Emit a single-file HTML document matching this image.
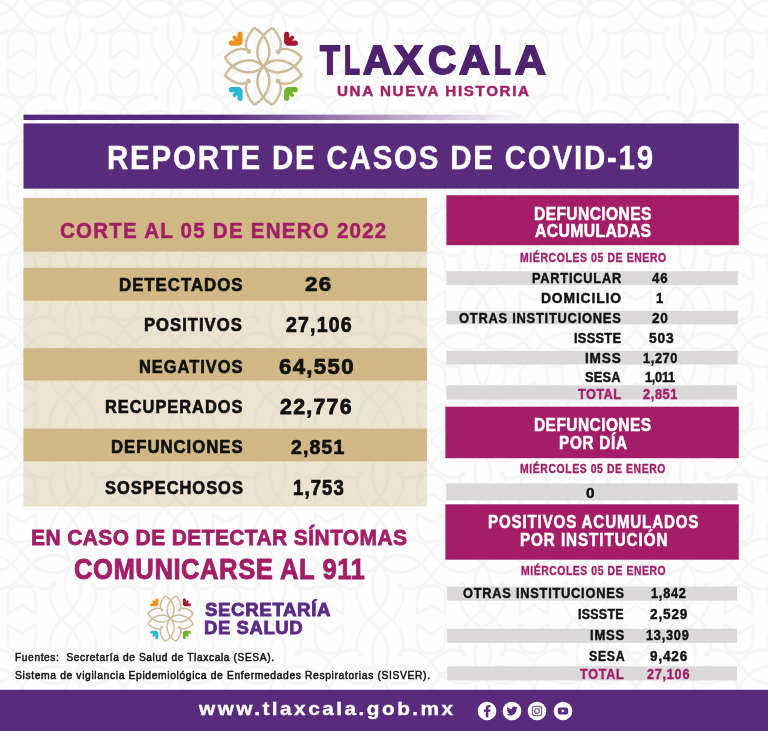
<!DOCTYPE html>
<html lang="es">
<head>
<meta charset="utf-8">
<title>Reporte de casos de COVID-19 - Tlaxcala</title>
<style>
html,body{margin:0;padding:0;}
body{width:768px;height:731px;position:relative;overflow:hidden;background:#fdfdfd;font-family:"Liberation Sans",sans-serif;font-weight:700;}
.b{position:absolute;}
.t{position:absolute;white-space:nowrap;line-height:1;transform-origin:0 50%;}
</style>
</head>
<body>
<svg class="b" style="left:0;top:0" width="768" height="731" viewBox="0 0 768 731">
<defs>
<linearGradient id="fade" x1="0" y1="0" x2="1" y2="0">
<stop offset="0" stop-color="#582b7c"/><stop offset="0.38" stop-color="#582b7c"/><stop offset="0.96" stop-color="#582b7c" stop-opacity="0"/>
</linearGradient>
<g id="bgf" transform="scale(0.18)" stroke-width="15">
<use href="#lg-q"/><use href="#lg-q" transform="rotate(90)"/><use href="#lg-q" transform="rotate(180)"/><use href="#lg-q" transform="rotate(270)"/>
</g>
<g id="bgt" stroke-width="2.6">
<path d="M-14,-5 L-14,-19 Q-14,-31 0,-31 Q14,-31 14,-19 L14,-5 L0,-13 Z"/>
<path d="M-14,5 L-14,19 Q-14,31 0,31 Q14,31 14,19 L14,5 L0,13 Z"/>
</g>
</defs>
<g fill="none" stroke="#f6f6f6" stroke-linejoin="round">
<use href="#bgf" transform="translate(-29.4,-102.7) scale(1,1.085)"/>
<use href="#bgf" transform="translate(73.0,-102.7) scale(1,1.085)"/>
<use href="#bgf" transform="translate(175.4,-102.7) scale(1,1.085)"/>
<use href="#bgf" transform="translate(277.8,-102.7) scale(1,1.085)"/>
<use href="#bgf" transform="translate(380.2,-102.7) scale(1,1.085)"/>
<use href="#bgf" transform="translate(482.6,-102.7) scale(1,1.085)"/>
<use href="#bgf" transform="translate(585.0,-102.7) scale(1,1.085)"/>
<use href="#bgf" transform="translate(687.4,-102.7) scale(1,1.085)"/>
<use href="#bgf" transform="translate(789.8,-102.7) scale(1,1.085)"/>
<use href="#bgf" transform="translate(892.2,-102.7) scale(1,1.085)"/>
<use href="#bgf" transform="translate(-29.4,8.4) scale(1,1.085)"/>
<use href="#bgf" transform="translate(73.0,8.4) scale(1,1.085)"/>
<use href="#bgf" transform="translate(175.4,8.4) scale(1,1.085)"/>
<use href="#bgf" transform="translate(277.8,8.4) scale(1,1.085)"/>
<use href="#bgf" transform="translate(380.2,8.4) scale(1,1.085)"/>
<use href="#bgf" transform="translate(482.6,8.4) scale(1,1.085)"/>
<use href="#bgf" transform="translate(585.0,8.4) scale(1,1.085)"/>
<use href="#bgf" transform="translate(687.4,8.4) scale(1,1.085)"/>
<use href="#bgf" transform="translate(789.8,8.4) scale(1,1.085)"/>
<use href="#bgf" transform="translate(892.2,8.4) scale(1,1.085)"/>
<use href="#bgf" transform="translate(-29.4,119.5) scale(1,1.085)"/>
<use href="#bgf" transform="translate(73.0,119.5) scale(1,1.085)"/>
<use href="#bgf" transform="translate(175.4,119.5) scale(1,1.085)"/>
<use href="#bgf" transform="translate(277.8,119.5) scale(1,1.085)"/>
<use href="#bgf" transform="translate(380.2,119.5) scale(1,1.085)"/>
<use href="#bgf" transform="translate(482.6,119.5) scale(1,1.085)"/>
<use href="#bgf" transform="translate(585.0,119.5) scale(1,1.085)"/>
<use href="#bgf" transform="translate(687.4,119.5) scale(1,1.085)"/>
<use href="#bgf" transform="translate(789.8,119.5) scale(1,1.085)"/>
<use href="#bgf" transform="translate(892.2,119.5) scale(1,1.085)"/>
<use href="#bgf" transform="translate(-29.4,230.6) scale(1,1.085)"/>
<use href="#bgf" transform="translate(73.0,230.6) scale(1,1.085)"/>
<use href="#bgf" transform="translate(175.4,230.6) scale(1,1.085)"/>
<use href="#bgf" transform="translate(277.8,230.6) scale(1,1.085)"/>
<use href="#bgf" transform="translate(380.2,230.6) scale(1,1.085)"/>
<use href="#bgf" transform="translate(482.6,230.6) scale(1,1.085)"/>
<use href="#bgf" transform="translate(585.0,230.6) scale(1,1.085)"/>
<use href="#bgf" transform="translate(687.4,230.6) scale(1,1.085)"/>
<use href="#bgf" transform="translate(789.8,230.6) scale(1,1.085)"/>
<use href="#bgf" transform="translate(892.2,230.6) scale(1,1.085)"/>
<use href="#bgf" transform="translate(-29.4,341.7) scale(1,1.085)"/>
<use href="#bgf" transform="translate(73.0,341.7) scale(1,1.085)"/>
<use href="#bgf" transform="translate(175.4,341.7) scale(1,1.085)"/>
<use href="#bgf" transform="translate(277.8,341.7) scale(1,1.085)"/>
<use href="#bgf" transform="translate(380.2,341.7) scale(1,1.085)"/>
<use href="#bgf" transform="translate(482.6,341.7) scale(1,1.085)"/>
<use href="#bgf" transform="translate(585.0,341.7) scale(1,1.085)"/>
<use href="#bgf" transform="translate(687.4,341.7) scale(1,1.085)"/>
<use href="#bgf" transform="translate(789.8,341.7) scale(1,1.085)"/>
<use href="#bgf" transform="translate(892.2,341.7) scale(1,1.085)"/>
<use href="#bgf" transform="translate(-29.4,452.8) scale(1,1.085)"/>
<use href="#bgf" transform="translate(73.0,452.8) scale(1,1.085)"/>
<use href="#bgf" transform="translate(175.4,452.8) scale(1,1.085)"/>
<use href="#bgf" transform="translate(277.8,452.8) scale(1,1.085)"/>
<use href="#bgf" transform="translate(380.2,452.8) scale(1,1.085)"/>
<use href="#bgf" transform="translate(482.6,452.8) scale(1,1.085)"/>
<use href="#bgf" transform="translate(585.0,452.8) scale(1,1.085)"/>
<use href="#bgf" transform="translate(687.4,452.8) scale(1,1.085)"/>
<use href="#bgf" transform="translate(789.8,452.8) scale(1,1.085)"/>
<use href="#bgf" transform="translate(892.2,452.8) scale(1,1.085)"/>
<use href="#bgf" transform="translate(-29.4,563.9) scale(1,1.085)"/>
<use href="#bgf" transform="translate(73.0,563.9) scale(1,1.085)"/>
<use href="#bgf" transform="translate(175.4,563.9) scale(1,1.085)"/>
<use href="#bgf" transform="translate(277.8,563.9) scale(1,1.085)"/>
<use href="#bgf" transform="translate(380.2,563.9) scale(1,1.085)"/>
<use href="#bgf" transform="translate(482.6,563.9) scale(1,1.085)"/>
<use href="#bgf" transform="translate(585.0,563.9) scale(1,1.085)"/>
<use href="#bgf" transform="translate(687.4,563.9) scale(1,1.085)"/>
<use href="#bgf" transform="translate(789.8,563.9) scale(1,1.085)"/>
<use href="#bgf" transform="translate(892.2,563.9) scale(1,1.085)"/>
<use href="#bgf" transform="translate(-29.4,675.0) scale(1,1.085)"/>
<use href="#bgf" transform="translate(73.0,675.0) scale(1,1.085)"/>
<use href="#bgf" transform="translate(175.4,675.0) scale(1,1.085)"/>
<use href="#bgf" transform="translate(277.8,675.0) scale(1,1.085)"/>
<use href="#bgf" transform="translate(380.2,675.0) scale(1,1.085)"/>
<use href="#bgf" transform="translate(482.6,675.0) scale(1,1.085)"/>
<use href="#bgf" transform="translate(585.0,675.0) scale(1,1.085)"/>
<use href="#bgf" transform="translate(687.4,675.0) scale(1,1.085)"/>
<use href="#bgf" transform="translate(789.8,675.0) scale(1,1.085)"/>
<use href="#bgf" transform="translate(892.2,675.0) scale(1,1.085)"/>
<use href="#bgf" transform="translate(-29.4,786.1) scale(1,1.085)"/>
<use href="#bgf" transform="translate(73.0,786.1) scale(1,1.085)"/>
<use href="#bgf" transform="translate(175.4,786.1) scale(1,1.085)"/>
<use href="#bgf" transform="translate(277.8,786.1) scale(1,1.085)"/>
<use href="#bgf" transform="translate(380.2,786.1) scale(1,1.085)"/>
<use href="#bgf" transform="translate(482.6,786.1) scale(1,1.085)"/>
<use href="#bgf" transform="translate(585.0,786.1) scale(1,1.085)"/>
<use href="#bgf" transform="translate(687.4,786.1) scale(1,1.085)"/>
<use href="#bgf" transform="translate(789.8,786.1) scale(1,1.085)"/>
<use href="#bgf" transform="translate(892.2,786.1) scale(1,1.085)"/>
<use href="#bgt" transform="translate(21.8,-47.1) scale(1,1.085)"/>
<use href="#bgt" transform="translate(124.2,-47.1) scale(1,1.085)"/>
<use href="#bgt" transform="translate(226.6,-47.1) scale(1,1.085)"/>
<use href="#bgt" transform="translate(329.0,-47.1) scale(1,1.085)"/>
<use href="#bgt" transform="translate(431.4,-47.1) scale(1,1.085)"/>
<use href="#bgt" transform="translate(533.8,-47.1) scale(1,1.085)"/>
<use href="#bgt" transform="translate(636.2,-47.1) scale(1,1.085)"/>
<use href="#bgt" transform="translate(738.6,-47.1) scale(1,1.085)"/>
<use href="#bgt" transform="translate(841.0,-47.1) scale(1,1.085)"/>
<use href="#bgt" transform="translate(943.4,-47.1) scale(1,1.085)"/>
<use href="#bgt" transform="translate(21.8,63.9) scale(1,1.085)"/>
<use href="#bgt" transform="translate(124.2,63.9) scale(1,1.085)"/>
<use href="#bgt" transform="translate(226.6,63.9) scale(1,1.085)"/>
<use href="#bgt" transform="translate(329.0,63.9) scale(1,1.085)"/>
<use href="#bgt" transform="translate(431.4,63.9) scale(1,1.085)"/>
<use href="#bgt" transform="translate(533.8,63.9) scale(1,1.085)"/>
<use href="#bgt" transform="translate(636.2,63.9) scale(1,1.085)"/>
<use href="#bgt" transform="translate(738.6,63.9) scale(1,1.085)"/>
<use href="#bgt" transform="translate(841.0,63.9) scale(1,1.085)"/>
<use href="#bgt" transform="translate(943.4,63.9) scale(1,1.085)"/>
<use href="#bgt" transform="translate(21.8,175.1) scale(1,1.085)"/>
<use href="#bgt" transform="translate(124.2,175.1) scale(1,1.085)"/>
<use href="#bgt" transform="translate(226.6,175.1) scale(1,1.085)"/>
<use href="#bgt" transform="translate(329.0,175.1) scale(1,1.085)"/>
<use href="#bgt" transform="translate(431.4,175.1) scale(1,1.085)"/>
<use href="#bgt" transform="translate(533.8,175.1) scale(1,1.085)"/>
<use href="#bgt" transform="translate(636.2,175.1) scale(1,1.085)"/>
<use href="#bgt" transform="translate(738.6,175.1) scale(1,1.085)"/>
<use href="#bgt" transform="translate(841.0,175.1) scale(1,1.085)"/>
<use href="#bgt" transform="translate(943.4,175.1) scale(1,1.085)"/>
<use href="#bgt" transform="translate(21.8,286.1) scale(1,1.085)"/>
<use href="#bgt" transform="translate(124.2,286.1) scale(1,1.085)"/>
<use href="#bgt" transform="translate(226.6,286.1) scale(1,1.085)"/>
<use href="#bgt" transform="translate(329.0,286.1) scale(1,1.085)"/>
<use href="#bgt" transform="translate(431.4,286.1) scale(1,1.085)"/>
<use href="#bgt" transform="translate(533.8,286.1) scale(1,1.085)"/>
<use href="#bgt" transform="translate(636.2,286.1) scale(1,1.085)"/>
<use href="#bgt" transform="translate(738.6,286.1) scale(1,1.085)"/>
<use href="#bgt" transform="translate(841.0,286.1) scale(1,1.085)"/>
<use href="#bgt" transform="translate(943.4,286.1) scale(1,1.085)"/>
<use href="#bgt" transform="translate(21.8,397.2) scale(1,1.085)"/>
<use href="#bgt" transform="translate(124.2,397.2) scale(1,1.085)"/>
<use href="#bgt" transform="translate(226.6,397.2) scale(1,1.085)"/>
<use href="#bgt" transform="translate(329.0,397.2) scale(1,1.085)"/>
<use href="#bgt" transform="translate(431.4,397.2) scale(1,1.085)"/>
<use href="#bgt" transform="translate(533.8,397.2) scale(1,1.085)"/>
<use href="#bgt" transform="translate(636.2,397.2) scale(1,1.085)"/>
<use href="#bgt" transform="translate(738.6,397.2) scale(1,1.085)"/>
<use href="#bgt" transform="translate(841.0,397.2) scale(1,1.085)"/>
<use href="#bgt" transform="translate(943.4,397.2) scale(1,1.085)"/>
<use href="#bgt" transform="translate(21.8,508.3) scale(1,1.085)"/>
<use href="#bgt" transform="translate(124.2,508.3) scale(1,1.085)"/>
<use href="#bgt" transform="translate(226.6,508.3) scale(1,1.085)"/>
<use href="#bgt" transform="translate(329.0,508.3) scale(1,1.085)"/>
<use href="#bgt" transform="translate(431.4,508.3) scale(1,1.085)"/>
<use href="#bgt" transform="translate(533.8,508.3) scale(1,1.085)"/>
<use href="#bgt" transform="translate(636.2,508.3) scale(1,1.085)"/>
<use href="#bgt" transform="translate(738.6,508.3) scale(1,1.085)"/>
<use href="#bgt" transform="translate(841.0,508.3) scale(1,1.085)"/>
<use href="#bgt" transform="translate(943.4,508.3) scale(1,1.085)"/>
<use href="#bgt" transform="translate(21.8,619.4) scale(1,1.085)"/>
<use href="#bgt" transform="translate(124.2,619.4) scale(1,1.085)"/>
<use href="#bgt" transform="translate(226.6,619.4) scale(1,1.085)"/>
<use href="#bgt" transform="translate(329.0,619.4) scale(1,1.085)"/>
<use href="#bgt" transform="translate(431.4,619.4) scale(1,1.085)"/>
<use href="#bgt" transform="translate(533.8,619.4) scale(1,1.085)"/>
<use href="#bgt" transform="translate(636.2,619.4) scale(1,1.085)"/>
<use href="#bgt" transform="translate(738.6,619.4) scale(1,1.085)"/>
<use href="#bgt" transform="translate(841.0,619.4) scale(1,1.085)"/>
<use href="#bgt" transform="translate(943.4,619.4) scale(1,1.085)"/>
<use href="#bgt" transform="translate(21.8,730.5) scale(1,1.085)"/>
<use href="#bgt" transform="translate(124.2,730.5) scale(1,1.085)"/>
<use href="#bgt" transform="translate(226.6,730.5) scale(1,1.085)"/>
<use href="#bgt" transform="translate(329.0,730.5) scale(1,1.085)"/>
<use href="#bgt" transform="translate(431.4,730.5) scale(1,1.085)"/>
<use href="#bgt" transform="translate(533.8,730.5) scale(1,1.085)"/>
<use href="#bgt" transform="translate(636.2,730.5) scale(1,1.085)"/>
<use href="#bgt" transform="translate(738.6,730.5) scale(1,1.085)"/>
<use href="#bgt" transform="translate(841.0,730.5) scale(1,1.085)"/>
<use href="#bgt" transform="translate(943.4,730.5) scale(1,1.085)"/>
<use href="#bgt" transform="translate(21.8,841.6) scale(1,1.085)"/>
<use href="#bgt" transform="translate(124.2,841.6) scale(1,1.085)"/>
<use href="#bgt" transform="translate(226.6,841.6) scale(1,1.085)"/>
<use href="#bgt" transform="translate(329.0,841.6) scale(1,1.085)"/>
<use href="#bgt" transform="translate(431.4,841.6) scale(1,1.085)"/>
<use href="#bgt" transform="translate(533.8,841.6) scale(1,1.085)"/>
<use href="#bgt" transform="translate(636.2,841.6) scale(1,1.085)"/>
<use href="#bgt" transform="translate(738.6,841.6) scale(1,1.085)"/>
<use href="#bgt" transform="translate(841.0,841.6) scale(1,1.085)"/>
<use href="#bgt" transform="translate(943.4,841.6) scale(1,1.085)"/>
</g>
<!-- thin gradient line + title bar -->
<rect x="23.5" y="114.65" width="520" height="5.35" fill="url(#fade)"/>
<rect x="23.5" y="123.45" width="715.3" height="65.2" fill="#582b7c"/>
<!-- left panel -->
<g fill="#d0b786" fill-opacity="0.368">
<rect x="23.5" y="197.95" width="403.4" height="308.45"/>
</g>
<g fill="#d0b786">
<rect x="23.5" y="197.95" width="403.4" height="53.7"/>
<rect x="23.5" y="267.9" width="403.4" height="32.9"/>
<rect x="23.5" y="348.1" width="403.4" height="32.4"/>
<rect x="23.5" y="428.6" width="403.4" height="32.7"/>
</g>
<!-- right panel -->
<g fill="#a31e66">
<rect x="446.4" y="195.2" width="292.4" height="50"/>
<rect x="445.4" y="406.7" width="293.4" height="51.5"/>
<rect x="445.4" y="504.3" width="293.4" height="55.4"/>
</g>
<g fill="#dad8d9">
<rect x="446.4" y="271.2" width="291.4" height="13.8"/>
<rect x="446.4" y="310.8" width="291.4" height="13.5"/>
<rect x="446.4" y="350.8" width="291.4" height="13.6"/>
<rect x="446.4" y="385.4" width="290.6" height="14.3"/>
<rect x="446.4" y="483.5" width="291.4" height="16.9"/>
<rect x="447.2" y="586.6" width="289.8" height="14"/>
<rect x="447.2" y="628.8" width="289.8" height="14"/>
<rect x="447.2" y="666.4" width="289.8" height="13.9"/>
</g>
<!-- footer -->
<rect x="0" y="689.8" width="768" height="41.2" fill="#582b7c"/>
</svg>
<svg width="0" height="0" style="position:absolute"><defs>
<g id="lg-q">
<path d="M-67,-285 C50,-215 78,-80 0,0"/>
<path d="M67,-285 C-50,-215 -78,-80 0,0"/>
<path d="M-67,-285 C-110,-240 -146,-170 -120,-124"/>
<path d="M67,-285 C110,-240 146,-170 120,-124"/>
<circle cx="-108" cy="-110" r="9"/>
</g>
<g id="lg-o" stroke-linecap="round" fill="none">
<path d="M-172,-182 L-172,-236" stroke-width="38"/>
<path d="M-182,-172 L-236,-172" stroke-width="38"/>
<path d="M-190,-190 L-213,-213" stroke-width="28"/>
</g>
<g id="logo">
<g fill="none" stroke="#cdbb97" stroke-width="18" stroke-linejoin="round">
<use href="#lg-q"/><use href="#lg-q" transform="rotate(90)"/><use href="#lg-q" transform="rotate(180)"/><use href="#lg-q" transform="rotate(270)"/>
</g>
<use href="#lg-o" stroke="#f0901c"/>
<use href="#lg-o" stroke="#a3182f" transform="rotate(90)"/>
<use href="#lg-o" stroke="#72b52d" transform="rotate(180)"/>
<use href="#lg-o" stroke="#2bb6d6" transform="rotate(270)"/>
</g>
</defs></svg>
<svg class="b" style="left:220.03px;top:22.63px" width="86.73" height="86.73" viewBox="-320 -320 640 640"><use href="#logo"/></svg>
<svg class="b" style="left:144.50px;top:593.30px" width="51.20" height="51.20" viewBox="-320 -320 640 640"><use href="#logo"/></svg>
<svg class="b" style="left:477.20px;top:700.60px" width="20" height="20" viewBox="-10 -10 20 20"><circle r="9.3" fill="#fff"/><path d="M1.3,6.2 V0.8 H3.2 L3.5,-1.4 H1.3 V-2.7 C1.3,-3.4 1.6,-3.8 2.4,-3.8 H3.6 V-5.8 C3.3,-5.85 2.6,-5.9 1.9,-5.9 C0,-5.9 -1.2,-4.8 -1.2,-2.9 V-1.4 H-3.1 V0.8 H-1.2 V6.2 Z" fill="#582b7c"/></svg>
<svg class="b" style="left:502.00px;top:700.60px" width="20" height="20" viewBox="-10 -10 20 20"><circle r="9.3" fill="#fff"/><path d="M5.6,-3.2 C5.2,-3 4.7,-2.9 4.3,-2.8 C4.8,-3.1 5.1,-3.6 5.3,-4.1 C4.9,-3.8 4.3,-3.6 3.8,-3.5 C3.4,-4 2.8,-4.3 2.1,-4.3 C0.8,-4.3 -0.2,-3.2 -0.2,-2 C-0.2,-1.8 -0.2,-1.6 -0.1,-1.5 C-2,-1.6 -3.7,-2.5 -4.8,-3.9 C-5,-3.5 -5.1,-3.1 -5.1,-2.7 C-5.1,-1.9 -4.7,-1.2 -4.1,-0.8 C-4.5,-0.8 -4.8,-0.9 -5.1,-1.1 C-5.1,0 -4.3,1 -3.3,1.2 C-3.6,1.3 -4,1.3 -4.3,1.2 C-4,2.1 -3.2,2.8 -2.2,2.8 C-3.1,3.5 -4.3,3.9 -5.6,3.8 C-4.5,4.4 -3.3,4.8 -2,4.8 C2.2,4.8 4.5,1.3 4.5,-1.7 V-2 C4.9,-2.3 5.3,-2.7 5.6,-3.2 Z" fill="#582b7c" transform="translate(0,-0.2)"/></svg>
<svg class="b" style="left:527.30px;top:700.60px" width="20" height="20" viewBox="-10 -10 20 20"><circle r="9.3" fill="#fff"/><rect x="-4.6" y="-4.6" width="9.2" height="9.2" rx="2.3" fill="none" stroke="#7d6a8f" stroke-width="1.35"/><circle r="2.4" fill="none" stroke="#7d6a8f" stroke-width="1.35"/><circle cx="2.7" cy="-2.7" r="0.6" fill="#8c7a9c"/></svg>
<svg class="b" style="left:552.50px;top:700.60px" width="20" height="20" viewBox="-10 -10 20 20"><circle r="9.3" fill="#fff"/><rect x="-5.2" y="-3.6" width="10.4" height="7.2" rx="2" fill="#582b7c"/><path d="M-1.3,-1.8 L2,0 L-1.3,1.8 Z" fill="#fff"/></svg>
<span class="t" style="left:320.43px;top:41.00px;font-size:39.84px;color:#4f2270;-webkit-text-stroke:0.045em currentColor;"><span style="display:inline-block;width:23.54px;transform:scaleX(0.8181);transform-origin:0 50%">T</span><span style="display:inline-block;width:18.82px;transform:scaleX(0.6557);transform-origin:0 50%">L</span><span style="display:inline-block;width:31.28px;transform:scaleX(0.9969);transform-origin:0 50%">A</span><span style="display:inline-block;width:34.02px;transform:scaleX(1.0906);transform-origin:0 50%">X</span><span style="display:inline-block;width:31.16px;transform:scaleX(0.9829);transform-origin:0 50%">C</span><span style="display:inline-block;width:34.68px;transform:scaleX(1.0707);transform-origin:0 50%">A</span><span style="display:inline-block;width:20.92px;transform:scaleX(0.6893);transform-origin:0 50%">L</span><span style="display:inline-block;width:30.80px;transform:scaleX(1.0707);transform-origin:0 50%">A</span></span>
<span class="t" style="left:336.60px;top:84.00px;font-size:14.07px;letter-spacing:1.492px;color:#a21e66;transform:scaleX(1.0800);-webkit-text-stroke:0.03em currentColor;">UNA NUEVA HISTORIA</span>
<span class="t" style="left:106.97px;top:142.00px;font-size:32.29px;letter-spacing:1.937px;color:#ffffff;transform:scaleX(0.9140);-webkit-text-stroke:0.012em currentColor;">REPORTE DE CASOS DE COVID-19</span>
<span class="t" style="left:59.80px;top:219.00px;font-size:22.96px;letter-spacing:1.378px;color:#a21e66;transform:scaleX(0.8945);-webkit-text-stroke:0.022em currentColor;">CORTE AL 05 DE ENERO 2022</span>
<span class="t" style="left:118.91px;top:276.00px;font-size:18.81px;letter-spacing:1.129px;color:#111111;transform:scaleX(0.8931);-webkit-text-stroke:0.035em currentColor;">DETECTADOS</span>
<span class="t" style="left:144.39px;top:316.00px;font-size:18.4px;letter-spacing:1.104px;color:#111111;transform:scaleX(0.9054);-webkit-text-stroke:0.035em currentColor;">POSITIVOS</span>
<span class="t" style="left:138.93px;top:358.00px;font-size:18.95px;letter-spacing:1.137px;color:#111111;transform:scaleX(0.8682);-webkit-text-stroke:0.035em currentColor;">NEGATIVOS</span>
<span class="t" style="left:105.03px;top:398.00px;font-size:18.95px;letter-spacing:1.137px;color:#111111;transform:scaleX(0.8660);-webkit-text-stroke:0.035em currentColor;">RECUPERADOS</span>
<span class="t" style="left:110.81px;top:438.00px;font-size:18.81px;letter-spacing:1.129px;color:#111111;transform:scaleX(0.8884);-webkit-text-stroke:0.035em currentColor;">DEFUNCIONES</span>
<span class="t" style="left:104.50px;top:479.00px;font-size:18.81px;letter-spacing:1.129px;color:#111111;transform:scaleX(0.8752);-webkit-text-stroke:0.035em currentColor;">SOSPECHOSOS</span>
<span class="t" style="left:305.10px;top:273.00px;font-size:21.02px;letter-spacing:1.261px;color:#111111;transform:scaleX(1.0648);-webkit-text-stroke:0.035em currentColor;">26</span>
<span class="t" style="left:286.10px;top:315.00px;font-size:21.3px;letter-spacing:1.278px;color:#111111;transform:scaleX(0.9165);-webkit-text-stroke:0.035em currentColor;">27,106</span>
<span class="t" style="left:278.80px;top:357.00px;font-size:21.3px;letter-spacing:1.278px;color:#111111;transform:scaleX(1.0427);-webkit-text-stroke:0.035em currentColor;">64,550</span>
<span class="t" style="left:280.30px;top:396.00px;font-size:21.72px;letter-spacing:1.303px;color:#111111;transform:scaleX(0.9813);-webkit-text-stroke:0.035em currentColor;">22,776</span>
<span class="t" style="left:291.20px;top:437.00px;font-size:20.75px;letter-spacing:1.245px;color:#111111;transform:scaleX(0.9385);-webkit-text-stroke:0.035em currentColor;">2,851</span>
<span class="t" style="left:293.33px;top:477.00px;font-size:21.16px;letter-spacing:1.270px;color:#111111;transform:scaleX(0.8746);-webkit-text-stroke:0.035em currentColor;">1,753</span>
<span class="t" style="left:31.28px;top:526.00px;font-size:22.82px;letter-spacing:0.456px;color:#a21e66;transform:scaleX(0.9181);-webkit-text-stroke:0.035em currentColor;">EN CASO DE DETECTAR SÍNTOMAS</span>
<span class="t" style="left:74.11px;top:555.00px;font-size:28.69px;letter-spacing:0.574px;color:#a21e66;transform:scaleX(0.8938);-webkit-text-stroke:0.03em currentColor;">COMUNICARSE AL 911</span>
<span class="t" style="left:205.00px;top:600.00px;font-size:19.24px;letter-spacing:0.577px;color:#5b2a86;transform:scaleX(0.9743);-webkit-text-stroke:0.045em currentColor;">SECRETARÍA</span>
<span class="t" style="left:204.02px;top:619.00px;font-size:18.83px;letter-spacing:0.565px;color:#5b2a86;transform:scaleX(0.9838);-webkit-text-stroke:0.045em currentColor;">DE SALUD</span>
<span class="t" style="left:14.90px;top:652.00px;font-size:11.05px;letter-spacing:0.663px;color:#111111;font-weight:400;transform:scaleX(0.9219);-webkit-text-stroke:0.045em currentColor;">Fuentes:&nbsp; Secretaría de Salud de Tlaxcala (SESA).</span>
<span class="t" style="left:14.90px;top:670.00px;font-size:11.32px;letter-spacing:0.679px;color:#111111;font-weight:400;transform:scaleX(0.9129);-webkit-text-stroke:0.045em currentColor;">Sistema de vigilancia Epidemiológica de Enfermedades Respiratorias (SISVER).</span>
<span class="t" style="left:533.74px;top:205.00px;font-size:18.11px;letter-spacing:0.462px;color:#ffffff;transform:scaleX(0.8600);-webkit-text-stroke:0.03em currentColor;">DEFUNCIONES</span>
<span class="t" style="left:534.60px;top:222.00px;font-size:18.38px;letter-spacing:0.383px;color:#ffffff;transform:scaleX(0.8600);-webkit-text-stroke:0.03em currentColor;">ACUMULADAS</span>
<span class="t" style="left:520.30px;top:252.00px;font-size:12.12px;letter-spacing:0.726px;color:#a21e66;transform:scaleX(0.8600);-webkit-text-stroke:0.03em currentColor;">MIÉRCOLES 05 DE ENERO</span>
<span class="t" style="left:531.54px;top:271.00px;font-size:14.9px;letter-spacing:0.887px;color:#111111;transform:scaleX(0.8600);-webkit-text-stroke:0.03em currentColor;">PARTICULAR</span>
<span class="t" style="left:651.80px;top:271.00px;font-size:14.9px;letter-spacing:0.894px;color:#111111;transform:scaleX(0.8908);-webkit-text-stroke:0.03em currentColor;">46</span>
<span class="t" style="left:541.47px;top:291.00px;font-size:14.9px;letter-spacing:0.894px;color:#111111;transform:scaleX(0.9328);-webkit-text-stroke:0.03em currentColor;">DOMICILIO</span>
<span class="t" style="left:655.98px;top:291.00px;font-size:14.9px;letter-spacing:0.000px;color:#111111;transform:scaleX(0.8800);-webkit-text-stroke:0.03em currentColor;">1</span>
<span class="t" style="left:459.10px;top:311.00px;font-size:14.9px;letter-spacing:0.894px;color:#111111;transform:scaleX(0.8633);-webkit-text-stroke:0.03em currentColor;">OTRAS INSTITUCIONES</span>
<span class="t" style="left:651.80px;top:311.00px;font-size:14.9px;letter-spacing:0.894px;color:#111111;transform:scaleX(0.9083);-webkit-text-stroke:0.03em currentColor;">20</span>
<span class="t" style="left:573.84px;top:331.00px;font-size:14.9px;letter-spacing:0.338px;color:#111111;transform:scaleX(0.8600);-webkit-text-stroke:0.03em currentColor;">ISSSTE</span>
<span class="t" style="left:648.60px;top:331.00px;font-size:14.9px;letter-spacing:0.894px;color:#111111;transform:scaleX(0.9260);-webkit-text-stroke:0.03em currentColor;">503</span>
<span class="t" style="left:585.09px;top:351.00px;font-size:14.9px;letter-spacing:0.894px;color:#111111;transform:scaleX(0.9147);-webkit-text-stroke:0.03em currentColor;">IMSS</span>
<span class="t" style="left:642.70px;top:351.00px;font-size:14.9px;letter-spacing:0.696px;color:#111111;transform:scaleX(0.8600);-webkit-text-stroke:0.03em currentColor;">1,270</span>
<span class="t" style="left:585.10px;top:370.00px;font-size:14.9px;letter-spacing:0.277px;color:#111111;transform:scaleX(0.8600);-webkit-text-stroke:0.03em currentColor;">SESA</span>
<span class="t" style="left:644.70px;top:370.00px;font-size:14.9px;letter-spacing:-0.348px;color:#111111;transform:scaleX(0.8600);-webkit-text-stroke:0.03em currentColor;">1,011</span>
<span class="t" style="left:577.90px;top:387.00px;font-size:14.9px;letter-spacing:0.462px;color:#a21e66;transform:scaleX(0.8600);-webkit-text-stroke:0.03em currentColor;">TOTAL</span>
<span class="t" style="left:642.70px;top:387.00px;font-size:14.9px;letter-spacing:0.696px;color:#a21e66;transform:scaleX(0.8600);-webkit-text-stroke:0.03em currentColor;">2,851</span>
<span class="t" style="left:533.94px;top:417.00px;font-size:17.97px;letter-spacing:0.542px;color:#ffffff;transform:scaleX(0.8600);-webkit-text-stroke:0.03em currentColor;">DEFUNCIONES</span>
<span class="t" style="left:558.94px;top:435.00px;font-size:17.69px;letter-spacing:0.888px;color:#ffffff;transform:scaleX(0.8600);-webkit-text-stroke:0.03em currentColor;">POR DÍA</span>
<span class="t" style="left:520.30px;top:463.00px;font-size:12.12px;letter-spacing:0.685px;color:#a21e66;transform:scaleX(0.8600);-webkit-text-stroke:0.03em currentColor;">MIÉRCOLES 05 DE ENERO</span>
<span class="t" style="left:585.90px;top:486.00px;font-size:14.62px;letter-spacing:0.000px;color:#111111;transform:scaleX(1.0500);-webkit-text-stroke:0.03em currentColor;">0</span>
<span class="t" style="left:488.04px;top:514.00px;font-size:17.55px;letter-spacing:1.013px;color:#ffffff;transform:scaleX(0.8600);-webkit-text-stroke:0.03em currentColor;">POSITIVOS ACUMULADOS</span>
<span class="t" style="left:520.34px;top:532.00px;font-size:17.69px;letter-spacing:1.061px;color:#ffffff;transform:scaleX(0.8616);-webkit-text-stroke:0.03em currentColor;">POR INSTITUCIÓN</span>
<span class="t" style="left:521.00px;top:565.00px;font-size:12.12px;letter-spacing:0.639px;color:#a21e66;transform:scaleX(0.8600);-webkit-text-stroke:0.03em currentColor;">MIÉRCOLES 05 DE ENERO</span>
<span class="t" style="left:463.20px;top:586.00px;font-size:14.76px;letter-spacing:0.886px;color:#111111;transform:scaleX(0.8674);-webkit-text-stroke:0.03em currentColor;">OTRAS INSTITUCIONES</span>
<span class="t" style="left:650.90px;top:586.00px;font-size:14.76px;letter-spacing:0.886px;color:#111111;transform:scaleX(0.8621);-webkit-text-stroke:0.03em currentColor;">1,842</span>
<span class="t" style="left:578.40px;top:607.00px;font-size:14.48px;letter-spacing:0.312px;color:#111111;transform:scaleX(0.8600);-webkit-text-stroke:0.03em currentColor;">ISSSTE</span>
<span class="t" style="left:650.00px;top:607.00px;font-size:14.48px;letter-spacing:0.869px;color:#111111;transform:scaleX(0.9411);-webkit-text-stroke:0.03em currentColor;">2,529</span>
<span class="t" style="left:589.70px;top:628.00px;font-size:14.48px;letter-spacing:0.869px;color:#111111;transform:scaleX(0.9027);-webkit-text-stroke:0.03em currentColor;">IMSS</span>
<span class="t" style="left:646.30px;top:628.00px;font-size:14.48px;letter-spacing:0.869px;color:#111111;transform:scaleX(0.8795);-webkit-text-stroke:0.03em currentColor;">13,309</span>
<span class="t" style="left:589.00px;top:649.00px;font-size:14.35px;letter-spacing:0.782px;color:#111111;transform:scaleX(0.8600);-webkit-text-stroke:0.03em currentColor;">SESA</span>
<span class="t" style="left:650.00px;top:649.00px;font-size:14.35px;letter-spacing:0.861px;color:#111111;transform:scaleX(0.9476);-webkit-text-stroke:0.03em currentColor;">9,426</span>
<span class="t" style="left:580.30px;top:667.00px;font-size:14.21px;letter-spacing:0.853px;color:#a21e66;transform:scaleX(0.8843);-webkit-text-stroke:0.03em currentColor;">TOTAL</span>
<span class="t" style="left:646.80px;top:667.00px;font-size:14.21px;letter-spacing:0.853px;color:#a21e66;transform:scaleX(0.8890);-webkit-text-stroke:0.03em currentColor;">27,106</span>
<span class="t" style="left:199.35px;top:700.00px;font-size:18.06px;letter-spacing:2.167px;color:#ffffff;transform:scaleX(1.1504);-webkit-text-stroke:0.02em currentColor;">www.tlaxcala.gob.mx</span>
</body>
</html>
